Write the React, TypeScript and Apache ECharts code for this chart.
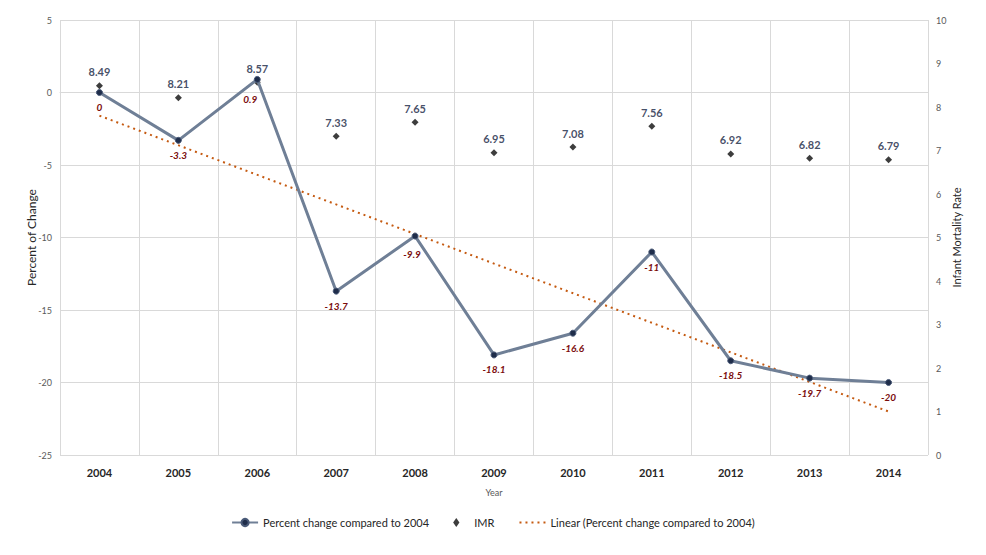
import { useEffect, useRef } from 'react';
import * as echarts from 'echarts';

const years = ['2004', '2005', '2006', '2007', '2008', '2009', '2010', '2011', '2012', '2013', '2014'];
const percentChange = [0, -3.3, 0.9, -13.7, -9.9, -18.1, -16.6, -11, -18.5, -19.7, -20];
const imr = [8.49, 8.21, 8.57, 7.33, 7.65, 6.95, 7.08, 7.56, 6.92, 6.82, 6.79];
// trend line end points
const trendYears = ['2004', '2014'];
const trendValues = [-1.6, -22.0];

const FONT = 'Lato, "Open Sans", sans-serif';
const DIAMOND = 'path://M0,5 L3.5,0 L7,5 L3.5,10 Z';

export default function App() {
  const chartRef = useRef<HTMLDivElement>(null);

  useEffect(() => {
    if (!chartRef.current) return;
    const chart = echarts.init(chartRef.current, undefined, { renderer: 'svg' });

    chart.setOption({
      animation: false,
      textStyle: { fontFamily: FONT },
      grid: { left: 52, right: 50, top: 12, bottom: 92 },
      legend: {
        top: 504,
        left: 'center',
        itemGap: 24,
        itemWidth: 26,
        itemHeight: 9,
        symbolKeepAspect: true,
        textStyle: { color: '#262626', fontSize: 11, fontFamily: FONT },
        data: [
          { name: 'Percent change compared to 2004' },
          { name: 'IMR', icon: DIAMOND },
          { name: 'Linear (Percent change compared to 2004)', itemStyle: { opacity: 0 } },
        ],
      },
      xAxis: {
        type: 'category',
        data: years,
        boundaryGap: true,
        name: 'Year',
        nameLocation: 'middle',
        nameGap: 33,
        nameMoveOverlap: false,
        nameTextStyle: { color: '#595959', fontSize: 9 },
        axisLine: { lineStyle: { color: '#d9d9d9' } },
        axisTick: { show: false },
        axisLabel: { color: '#262626', fontSize: 11, fontWeight: 'bold', margin: 12 },
        splitLine: { show: true, lineStyle: { color: '#d9d9d9' } },
      },
      yAxis: [
        {
          type: 'value',
          min: -25,
          max: 5,
          interval: 5,
          name: 'Percent of Change',
          nameLocation: 'middle',
          nameRotate: 90,
          nameGap: 23,
          nameMoveOverlap: false,
          nameTextStyle: { color: '#262626', fontSize: 12 },
          axisLine: { show: false },
          axisTick: { show: false },
          axisLabel: { color: '#595959', fontSize: 9, margin: 8 },
          splitLine: { lineStyle: { color: '#d9d9d9' } },
        },
        {
          type: 'value',
          min: 0,
          max: 10,
          interval: 1,
          name: 'Infant Mortality Rate',
          nameLocation: 'middle',
          nameRotate: 90,
          nameGap: 23,
          nameMoveOverlap: false,
          nameTextStyle: { color: '#262626', fontSize: 11 },
          axisLine: { show: false },
          axisTick: { show: false },
          axisLabel: { color: '#595959', fontSize: 9, margin: 8 },
          splitLine: { show: false },
        },
      ],
      series: [
        {
          name: 'Percent change compared to 2004',
          type: 'line',
          yAxisIndex: 0,
          data: percentChange.map((v, i) =>
            i === 2
              ? { value: v, label: { offset: [-7, 5] } }
              : i === 4
              ? { value: v, label: { offset: [-3, 3] } }
              : v
          ),
          symbol: 'circle',
          symbolSize: 6,
          lineStyle: { color: '#6f7f96', width: 3 },
          itemStyle: { color: '#1f2d4a', borderColor: '#4a5a78', borderWidth: 1 },
          label: {
            show: true,
            position: 'bottom',
            distance: 6,
            color: '#7b0c0c',
            fontSize: 10,
            fontStyle: 'italic',
            fontWeight: 'bold',
          },
          z: 3,
        },
        {
          name: 'IMR',
          type: 'scatter',
          yAxisIndex: 1,
          data: imr,
          symbol: 'diamond',
          symbolSize: 7,
          itemStyle: { color: '#0d0d0d' },
          label: {
            show: true,
            position: 'top',
            distance: 5,
            color: '#14233f',
            fontSize: 11,
            fontWeight: 'bold',
          },
        },
        {
          name: 'Linear (Percent change compared to 2004)',
          type: 'line',
          yAxisIndex: 0,
          data: trendYears.map((y, i) => [y, trendValues[i]]),
          symbol: 'none',
          lineStyle: { color: '#c55a11', width: 2, type: [2, 4] },
          itemStyle: { color: '#c55a11' },
          z: 2,
        },
      ],
    });

    return () => {
      chart.dispose();
    };
  }, []);

  return <div ref={chartRef} style={{ width: 970, height: 539 }} />;
}
